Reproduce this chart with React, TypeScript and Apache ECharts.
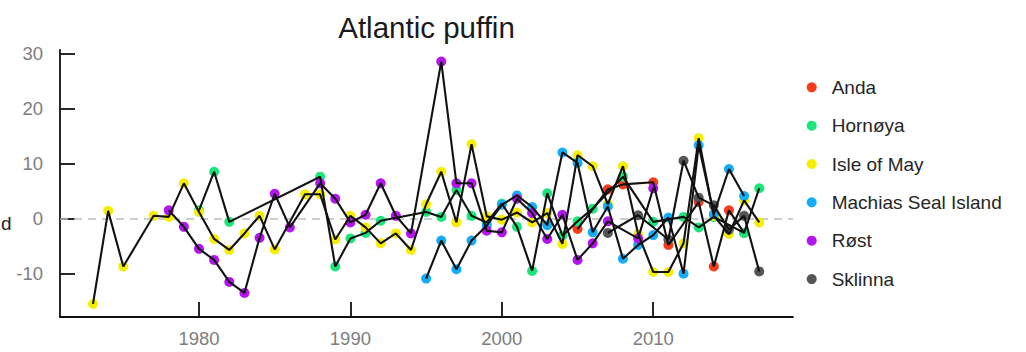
import React, { useEffect, useRef } from "react";
import * as echarts from "echarts";

// Breeding-season anomalies of Atlantic puffin colonies, by year.
const chartTitle = "Atlantic puffin";
const axisSideLabel = "d";

const siteNames = ["Anda", "Hornøya", "Isle of May", "Machias Seal Island", "Røst", "Sklinna"];
const siteColors = ["#F63C18", "#1BE67B", "#F5EE00", "#14AEF8", "#B414F0", "#555555"];

const andaYears = [2005, 2007, 2008, 2010, 2011, 2013, 2014, 2015, 2016];
const andaValues = [-1.9, 5.3, 6.2, 6.6, -4.8, 3.0, -8.7, 1.5, -2.6];

const hornoyaYears = [1980, 1981, 1982, 1988, 1989, 1990, 1991, 1992, 1995, 1996, 1997, 1998, 1999, 2000, 2001, 2002, 2003, 2004, 2005, 2006, 2008, 2010, 2012, 2013, 2014, 2016, 2017];
const hornoyaValues = [1.5, 8.5, -0.6, 7.6, -8.7, -3.6, -2.6, -0.4, 1.2, 0.3, 5.2, 0.5, -0.7, 2.7, -1.5, -9.5, 4.6, -3.1, -0.5, 1.8, 7.6, -0.6, 0.3, -1.6, 0.3, -2.6, 5.5];

const isleOfMayYears = [1973, 1974, 1975, 1977, 1978, 1979, 1980, 1981, 1982, 1983, 1984, 1985, 1987, 1988, 1989, 1990, 1991, 1992, 1993, 1994, 1995, 1996, 1997, 1998, 1999, 2000, 2001, 2002, 2003, 2004, 2005, 2006, 2007, 2008, 2009, 2010, 2011, 2012, 2013, 2014, 2015, 2016, 2017];
const isleOfMayValues = [-15.5, 1.4, -8.7, 0.5, 0.3, 6.4, 1.2, -3.7, -5.7, -2.7, 0.5, -5.6, 4.4, 4.4, -3.8, 0.5, -1.6, -4.5, -2.7, -5.7, 2.6, 8.5, -0.7, 13.5, 0.4, -0.2, 1.1, -0.7, 1.0, -4.6, 11.5, 9.5, 2.6, 9.5, -2.8, -9.7, -9.7, -4.5, 14.6, 0.5, -2.8, 3.3, -0.7];

const machiasYears = [1995, 1996, 1997, 1998, 1999, 2000, 2001, 2002, 2003, 2004, 2005, 2006, 2007, 2008, 2009, 2010, 2011, 2012, 2013, 2014, 2015, 2016];
const machiasValues = [-10.9, -4.0, -9.2, -4.0, -1.3, 2.5, 4.2, 2.1, -1.2, 12.0, 10.1, -2.5, 2.2, -7.3, -4.8, -3.0, 0.2, -10.0, 13.3, 0.8, 9.0, 4.1];

const rostYears = [1978, 1979, 1980, 1981, 1982, 1983, 1984, 1985, 1986, 1988, 1989, 1990, 1991, 1992, 1993, 1994, 1996, 1997, 1998, 1999, 2000, 2001, 2002, 2003, 2004, 2005, 2006, 2007, 2009, 2010];
const rostValues = [1.5, -1.5, -5.5, -7.5, -11.5, -13.5, -3.5, 4.5, -1.6, 6.4, 3.6, -0.7, 0.7, 6.4, 0.5, -2.7, 28.5, 6.4, 6.4, -2.2, -2.5, 3.6, 1.0, -3.7, 0.7, -7.5, -4.5, -0.5, -3.6, 5.5];

const sklinnaYears = [2007, 2009, 2011, 2012, 2013, 2014, 2015, 2016, 2017];
const sklinnaValues = [-2.6, 0.6, -3.8, 10.5, 3.8, 2.4, -2.0, 0.5, -9.6];

const siteYears = [andaYears, hornoyaYears, isleOfMayYears, machiasYears, rostYears, sklinnaYears];
const siteValues = [andaValues, hornoyaValues, isleOfMayValues, machiasValues, rostValues, sklinnaValues];

const yearTicks = [1980, 1990, 2000, 2010];
const valueTicks = [-10, 0, 10, 20, 30];

const fontFamily = "'Liberation Sans', Arial, sans-serif";

function buildOption(): echarts.EChartsOption {
  const pointSeries: any[] = siteNames.map((name, i) => ({
    name,
    type: "scatter",
    symbol: "circle",
    symbolSize: 10,
    z: 2,
    itemStyle: { color: siteColors[i], opacity: 1 },
    data: siteYears[i].map((yr, j) => [yr, siteValues[i][j]]),
    ...(i === 0
      ? {
          markLine: {
            silent: true,
            z: 1,
            symbol: ["none", "none"],
            label: { show: false },
            lineStyle: { color: "#BDBDBD", type: [8, 6], width: 1.6 },
            data: [{ yAxis: 0 }],
          },
        }
      : {}),
  }));

  const traceSeries: any[] = siteNames.map((name, i) => ({
    name: `${name} trace`,
    type: "line",
    symbol: "none",
    showSymbol: false,
    z: 3,
    lineStyle: { color: "#111111", width: 2.1 },
    itemStyle: { color: "#111111" },
    data: siteYears[i].map((yr, j) => [yr, siteValues[i][j]]),
  }));

  return {
    animation: false,
    backgroundColor: "#ffffff",
    textStyle: { fontFamily },
    title: {
      text: chartTitle,
      left: 421.5,
      top: 7,
      textAlign: "center",
      textStyle: { fontSize: 29.5, fontWeight: "normal", color: "#1a1a1a", fontFamily },
    },
    legend: {
      orient: "vertical",
      left: 806.7,
      top: 77.3,
      padding: 0,
      icon: "circle",
      itemWidth: 30,
      itemHeight: 10,
      itemGap: 18.35,
      data: siteNames,
      textStyle: { fontSize: 19, lineHeight: 20, color: "#262626", fontFamily },
    },
    grid: { left: 60, right: 233, top: 50, bottom: 35, containLabel: false },
    xAxis: {
      type: "value",
      min: 1970.82,
      max: 2019.23,
      axisLine: { show: true, onZero: false, lineStyle: { color: "#111111", width: 1.8 } },
      axisTick: { show: true, inside: true, length: 15, customValues: yearTicks, lineStyle: { color: "#111111", width: 1.8 } },
      axisLabel: {
        show: true,
        customValues: yearTicks,
        margin: 12,
        fontSize: 18.5,
        color: "#7d7d7d",
        fontFamily,
        formatter: (v: number) => String(Math.round(v)),
      },
      splitLine: { show: false },
    },
    yAxis: {
      type: "value",
      min: -17.87,
      max: 30.6,
      axisLine: { show: true, onZero: false, lineStyle: { color: "#111111", width: 1.8 } },
      axisTick: { show: true, inside: true, length: 15, customValues: valueTicks, lineStyle: { color: "#111111", width: 1.8 } },
      axisLabel: {
        show: true,
        customValues: valueTicks,
        margin: 17,
        fontSize: 18.5,
        color: "#7d7d7d",
        fontFamily,
        formatter: (v: number) => String(Math.round(v)),
      },
      splitLine: { show: false },
    },
    graphic: [
      {
        type: "text",
        x: 1,
        y: 223,
        style: {
          text: axisSideLabel,
          textAlign: "left",
          textVerticalAlign: "middle",
          fontSize: 19,
          fill: "#222222",
          fontFamily,
        },
      },
    ],
    series: [...pointSeries, ...traceSeries],
  };
}

export default function App() {
  const ref = useRef<HTMLDivElement>(null);

  useEffect(() => {
    if (!ref.current) return;
    const chart = echarts.init(ref.current, undefined, { renderer: "svg" });
    chart.setOption(buildOption());
    return () => chart.dispose();
  }, []);

  return (
    <div
      ref={ref}
      style={{ width: 1026, height: 352, position: "absolute", left: 0, top: 0, background: "#fff" }}
    />
  );
}
